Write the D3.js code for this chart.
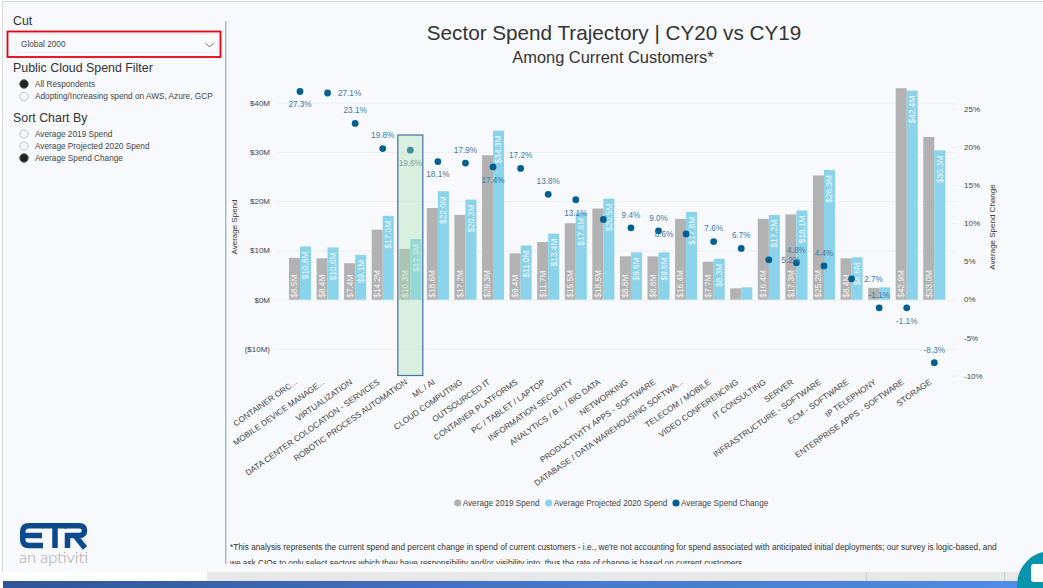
<!DOCTYPE html>
<html>
<head>
<meta charset="utf-8">
<script src="https://cdnjs.cloudflare.com/ajax/libs/d3/7.8.5/d3.min.js"></script>
<style>
  html, body { margin: 0; padding: 0; background: #fff; overflow: hidden; }
  svg { display: block; font-family: "Liberation Sans", Arial, sans-serif; }
  .axis .domain { display: none; }
  .axis line { stroke: #eceef2; }
  .axis text { fill: #444; font-size: 8px; }
  .x-axis text { fill: #3c3c3c; font-size: 8.25px; }
  .side-title { fill: #333; font-size: 12.4px; }
  .side-item { fill: #444; font-size: 8.25px; }
</style>
</head>
<body>
<svg id="chart" width="1043" height="588"></svg>
<script>
var categories = [
  'CONTAINER ORC...', 'MOBILE DEVICE MANAGE...', 'VIRTUALIZATION',
  'DATA CENTER COLOCATION - SERVICES', 'ROBOTIC PROCESS AUTOMATION', 'ML / AI',
  'CLOUD COMPUTING', 'OUTSOURCED IT', 'CONTAINER PLATFORMS', 'PC / TABLET / LAPTOP',
  'INFORMATION SECURITY', 'ANALYTICS / B.I. / BIG DATA', 'NETWORKING',
  'PRODUCTIVITY APPS - SOFTWARE', 'DATABASE / DATA WAREHOUSING SOFTWA...',
  'TELECOM / MOBILE', 'VIDEO CONFERENCING', 'IT CONSULTING', 'SERVER',
  'INFRASTRUCTURE - SOFTWARE', 'ECM - SOFTWARE', 'IP TELEPHONY',
  'ENTERPRISE APPS - SOFTWARE', 'STORAGE'
];
var spend2019 = [8.5, 8.4, 7.4, 14.2, 10.3, 18.6, 17.2, 29.3, 9.4, 11.7, 15.5, 18.5,
  8.8, 8.8, 16.4, 7.7, 2.3, 16.4, 17.3, 25.2, 8.4, 2.4, 42.9, 33.0];
var spend2020 = [10.8, 10.6, 9.1, 17.0, 12.3, 22.0, 20.3, 34.3, 11.0, 13.4, 17.6, 20.5,
  9.6, 9.6, 17.8, 8.3, 2.5, 17.2, 18.1, 26.3, 8.6, 2.5, 42.4, 30.3];
var spendChange = [27.3, 27.1, 23.1, 19.8, 19.6, 18.1, 17.9, 17.4, 17.2, 13.8, 13.1, 10.5,
  9.4, 9.0, 8.6, 7.6, 6.7, 5.2, 4.8, 4.4, 2.7, -1.1, -1.1, -8.3];
// where each change label sits: a above, b below, r right, l left, n none
var labelSide = ['b', 'r', 'a', 'a', 'b', 'b', 'a', 'b', 'a', 'a', 'b', 'n',
  'a', 'a', 'l', 'a', 'a', 'r', 'a', 'a', 'r', 'a', 'b', 'a'];
var spendTicks = [-10, 0, 10, 20, 30, 40];
var changeTicks = [-10, -5, 0, 5, 10, 15, 20, 25];
var highlighted = 'ROBOTIC PROCESS AUTOMATION';

var svg = d3.select('#chart');

var colorGray = '#b2b2b2',
    colorBlue = '#8ad3ea',
    colorDot = '#01608f',
    colorLabel = '#3d7aa6';

// page background and frame
svg.append('rect').attr('width', 1043).attr('height', 588).attr('fill', '#fff');
svg.append('rect').attr('x', 3).attr('y', 2).attr('width', 1040).attr('height', 570).attr('fill', '#f8f9fc');
svg.append('rect').attr('x', 2).attr('y', 1).attr('width', 1041).attr('height', 1).attr('fill', '#d8d8d8');
svg.append('rect').attr('x', 2).attr('y', 1).attr('width', 1).attr('height', 571).attr('fill', '#d8d8d8');
svg.append('rect').attr('x', 207).attr('y', 572).attr('width', 836).attr('height', 9).attr('fill', '#e8e8e8');
svg.append('rect').attr('x', 866).attr('y', 572).attr('width', 1).attr('height', 9).attr('fill', '#c8c8c8');
svg.append('rect').attr('x', 1004).attr('y', 572).attr('width', 1).attr('height', 9).attr('fill', '#c8c8c8');
var grad = svg.append('defs').append('linearGradient').attr('id', 'bottomBar');
grad.append('stop').attr('offset', '0%').attr('stop-color', '#2f5597');
grad.append('stop').attr('offset', '45%').attr('stop-color', '#4472c4');
grad.append('stop').attr('offset', '100%').attr('stop-color', '#4f8de8');
svg.append('rect').attr('x', 3).attr('y', 581).attr('width', 1040).attr('height', 7).attr('fill', 'url(#bottomBar)');
svg.append('rect').attr('x', 225).attr('y', 21).attr('width', 1.5).attr('height', 543).attr('fill', '#9dbdd8');

// scales
var x = d3.scaleBand().domain(categories).range([286.2, 948.1]).paddingInner(0.2).paddingOuter(0.1);
var xInner = d3.scaleBand().domain(['y19', 'y20']).range([0, x.bandwidth()]);
var ySpend = d3.scaleLinear().domain([-10, 40]).range([349, 102.5]);
var yChange = d3.scaleLinear().domain([-10, 25]).range([375.6, 109]);

// axes
var spendAxis = d3.axisLeft(ySpend).tickValues(spendTicks).tickSize(0).tickPadding(8)
  .tickFormat(function(d) { return d < 0 ? '($' + (-d) + 'M)' : '$' + d + 'M'; });
var gSpend = svg.append('g').attr('class', 'axis').attr('transform', 'translate(278,0)').call(spendAxis);
gSpend.selectAll('.tick').append('line').attr('x1', 0).attr('x2', 679);

var changeAxis = d3.axisRight(yChange).tickValues(changeTicks).tickSize(5).tickPadding(7)
  .tickFormat(function(d) { return d + '%'; });
svg.append('g').attr('class', 'axis').attr('transform', 'translate(952,0)').call(changeAxis);

var xAxis = d3.axisBottom(x).tickSize(0);
var gx = svg.append('g').attr('class', 'axis x-axis').attr('transform', 'translate(0,379)').call(xAxis);
gx.selectAll('text')
  .attr('text-anchor', 'end')
  .attr('transform', 'translate(-4,2) rotate(-35)')
  .attr('dy', '0.35em')
  .attr('y', 0);

// bars
var barRows = categories.map(function(c, i) {
  return {cat: c, y19: spend2019[i], y20: spend2020[i], change: spendChange[i], side: labelSide[i]};
});
var fmtM = function(v) { return '$' + v.toFixed(1) + 'M'; };

var groups = svg.append('g').selectAll('g').data(barRows).join('g')
  .attr('transform', function(d) { return 'translate(' + x(d.cat) + ',0)'; });

groups.append('rect')
  .attr('x', xInner('y19')).attr('width', xInner.bandwidth())
  .attr('y', function(d) { return ySpend(d.y19); })
  .attr('height', function(d) { return ySpend(0) - ySpend(d.y19); })
  .attr('fill', colorGray);
groups.append('rect')
  .attr('x', xInner('y20')).attr('width', xInner.bandwidth())
  .attr('y', function(d) { return ySpend(d.y20); })
  .attr('height', function(d) { return ySpend(0) - ySpend(d.y20); })
  .attr('fill', colorBlue);

// 2019 labels at the base, 2020 labels at the top; the tiny bars have none
groups.filter(function(d) { return d.y19 > 3; }).append('text')
  .attr('transform', function(d) {
    return 'translate(' + (xInner('y19') + xInner.bandwidth() / 2) + ',' + (ySpend(0) - 2) + ') rotate(-90)';
  })
  .attr('dy', '0.35em').attr('font-size', 8.3).attr('fill', '#fff').attr('fill-opacity', 0.9)
  .text(function(d) { return fmtM(d.y19); });
groups.filter(function(d) { return d.y20 > 3; }).append('text')
  .attr('transform', function(d) {
    return 'translate(' + (xInner('y20') + xInner.bandwidth() / 2) + ',' + (ySpend(d.y20) + 5) + ') rotate(-90)';
  })
  .attr('dy', '0.35em').attr('text-anchor', 'end').attr('font-size', 8.3).attr('fill', '#fff').attr('fill-opacity', 0.9)
  .text(function(d) { return fmtM(d.y20); });

// change dots and labels
var dotX = function(d) { return x(d.cat) + x.bandwidth() / 2; };
svg.append('g').selectAll('circle').data(barRows).join('circle')
  .attr('cx', dotX)
  .attr('cy', function(d) { return yChange(d.change); })
  .attr('r', 3.4)
  .attr('fill', colorDot);

var sideDx = {a: 0, b: 0, r: 22, l: -22},
    sideDy = {a: -13, b: 13, r: 0, l: 0};
svg.append('g').selectAll('text').data(barRows.filter(function(d) { return d.side !== 'n'; })).join('text')
  .attr('x', function(d) { return dotX(d) + sideDx[d.side]; })
  .attr('y', function(d) { return yChange(d.change) + sideDy[d.side]; })
  .attr('dy', '0.35em')
  .attr('text-anchor', 'middle')
  .attr('font-size', 8.2)
  .attr('fill', colorLabel)
  .text(function(d) { return d.change.toFixed(1) + '%'; });

// highlight over the selected sector
svg.append('rect')
  .attr('x', x(highlighted) + x.bandwidth() / 2 - 12.5)
  .attr('width', 25)
  .attr('y', 135)
  .attr('height', 240.5)
  .attr('fill', '#a6e0b4').attr('fill-opacity', 0.38)
  .attr('stroke', '#44709f').attr('stroke-width', 1.2);

// axis titles
svg.append('text').attr('transform', 'translate(234,227) rotate(-90)')
  .attr('text-anchor', 'middle').attr('dy', '0.35em').attr('font-size', 8).attr('fill', '#333').text('Average Spend');
svg.append('text').attr('transform', 'translate(992,227) rotate(-90)')
  .attr('text-anchor', 'middle').attr('dy', '0.35em').attr('font-size', 8).attr('fill', '#333').text('Average Spend Change');

// titles
svg.append('text').attr('x', 614).attr('y', 40).attr('text-anchor', 'middle')
  .attr('font-size', 20.7).attr('fill', '#333').text('Sector Spend Trajectory | CY20 vs CY19');
svg.append('text').attr('x', 613).attr('y', 63).attr('text-anchor', 'middle')
  .attr('font-size', 16.4).attr('fill', '#333').text('Among Current Customers*');

// legend
var legendItems = [
  {label: 'Average 2019 Spend', color: colorGray, cx: 457.7},
  {label: 'Average Projected 2020 Spend', color: colorBlue, cx: 548.7},
  {label: 'Average Spend Change', color: colorDot, cx: 676}
];
var legend = svg.append('g').selectAll('g').data(legendItems).join('g')
  .attr('transform', function(d) { return 'translate(' + d.cx + ',503)'; });
legend.append('circle').attr('r', 3.6).attr('fill', function(d) { return d.color; });
legend.append('text').attr('x', 5).attr('dy', '0.35em').attr('font-size', 8.2).attr('fill', '#444')
  .text(function(d) { return d.label; });

// footnote
svg.append('text').attr('x', 230).attr('y', 550).attr('font-size', 8.27).attr('fill', '#333')
  .text("*This analysis represents the current spend and percent change in spend of current customers - i.e., we're not accounting for spend associated with anticipated initial deployments; our survey is logic-based, and");
svg.append('defs').append('clipPath').attr('id', 'noteClip').append('rect').attr('width', 1043).attr('height', 564);
svg.append('text').attr('x', 230).attr('y', 566).attr('font-size', 8.27).attr('fill', '#333').attr('clip-path', 'url(#noteClip)')
  .text('we ask CIOs to only select sectors which they have responsibility and/or visibility into, thus the rate of change is based on current customers.');

// side panel
var sideTitles = [['Cut', 25], ['Public Cloud Spend Filter', 72], ['Sort Chart By', 121.5]];
svg.append('g').selectAll('text').data(sideTitles).join('text')
  .attr('class', 'side-title').attr('x', 13).attr('y', function(d) { return d[1]; })
  .text(function(d) { return d[0]; });

svg.append('rect').attr('x', 16).attr('y', 34).attr('width', 202).attr('height', 18.5)
  .attr('fill', '#f9fafc').attr('stroke', '#eaecef');
svg.append('rect').attr('x', 7.5).attr('y', 31.5).attr('width', 213).attr('height', 25.5)
  .attr('fill', 'none').attr('stroke', '#e8000f').attr('stroke-width', 1.8);
svg.append('text').attr('x', 21).attr('y', 47).attr('class', 'side-item').text('Global 2000');
svg.append('path').attr('d', 'M205.5,43 L209.5,47 L213.5,43').attr('fill', 'none').attr('stroke', '#666');

var radios = [
  ['All Respondents', 84, true],
  ['Adopting/Increasing spend on AWS, Azure, GCP', 96.5, false],
  ['Average 2019 Spend', 134, false],
  ['Average Projected 2020 Spend', 146, false],
  ['Average Spend Change', 158, true]
];
var radio = svg.append('g').selectAll('g').data(radios).join('g')
  .attr('transform', function(d) { return 'translate(24,' + d[1] + ')'; });
radio.append('circle').attr('r', 4.2)
  .attr('fill', function(d) { return d[2] ? '#222' : '#f4f5f6'; })
  .attr('stroke', function(d) { return d[2] ? '#555' : '#c4c6c8'; });
radio.append('text').attr('class', 'side-item').attr('x', 11).attr('dy', '0.35em')
  .text(function(d) { return d[0]; });

// logo
var logo = svg.append('g').attr('fill', 'none').attr('stroke', '#0c4a8e').attr('stroke-width', 5.5);
logo.append('path').attr('d', 'M43,525.7 H29 Q22.7,525.7 22.7,532 V539.5 Q22.7,545.5 29,545.5 H43 M23,535.5 H42');
logo.append('path').attr('d', 'M42,525.7 H67 M55,526 V548');
logo.append('path').attr('d', 'M64,525.7 H79 Q84.5,525.7 84.5,530.5 Q84.5,535.5 79,535.5 H67.5 V548 M75,535.5 L85,548');
svg.append('text').attr('x', 19).attr('y', 563).attr('font-family', 'Lato').attr('font-weight', 300)
  .attr('font-size', 16.5).attr('fill', '#a8a8a8').attr('textLength', 69).text('an aptiviti');

// chat bubble in the corner
svg.append('circle').attr('cx', 1051).attr('cy', 585).attr('r', 34).attr('fill', '#0a93ad');
svg.append('rect').attr('x', 1031).attr('y', 564).attr('width', 20).attr('height', 18).attr('rx', 3).attr('fill', '#fff');
</script>
</body>
</html>
